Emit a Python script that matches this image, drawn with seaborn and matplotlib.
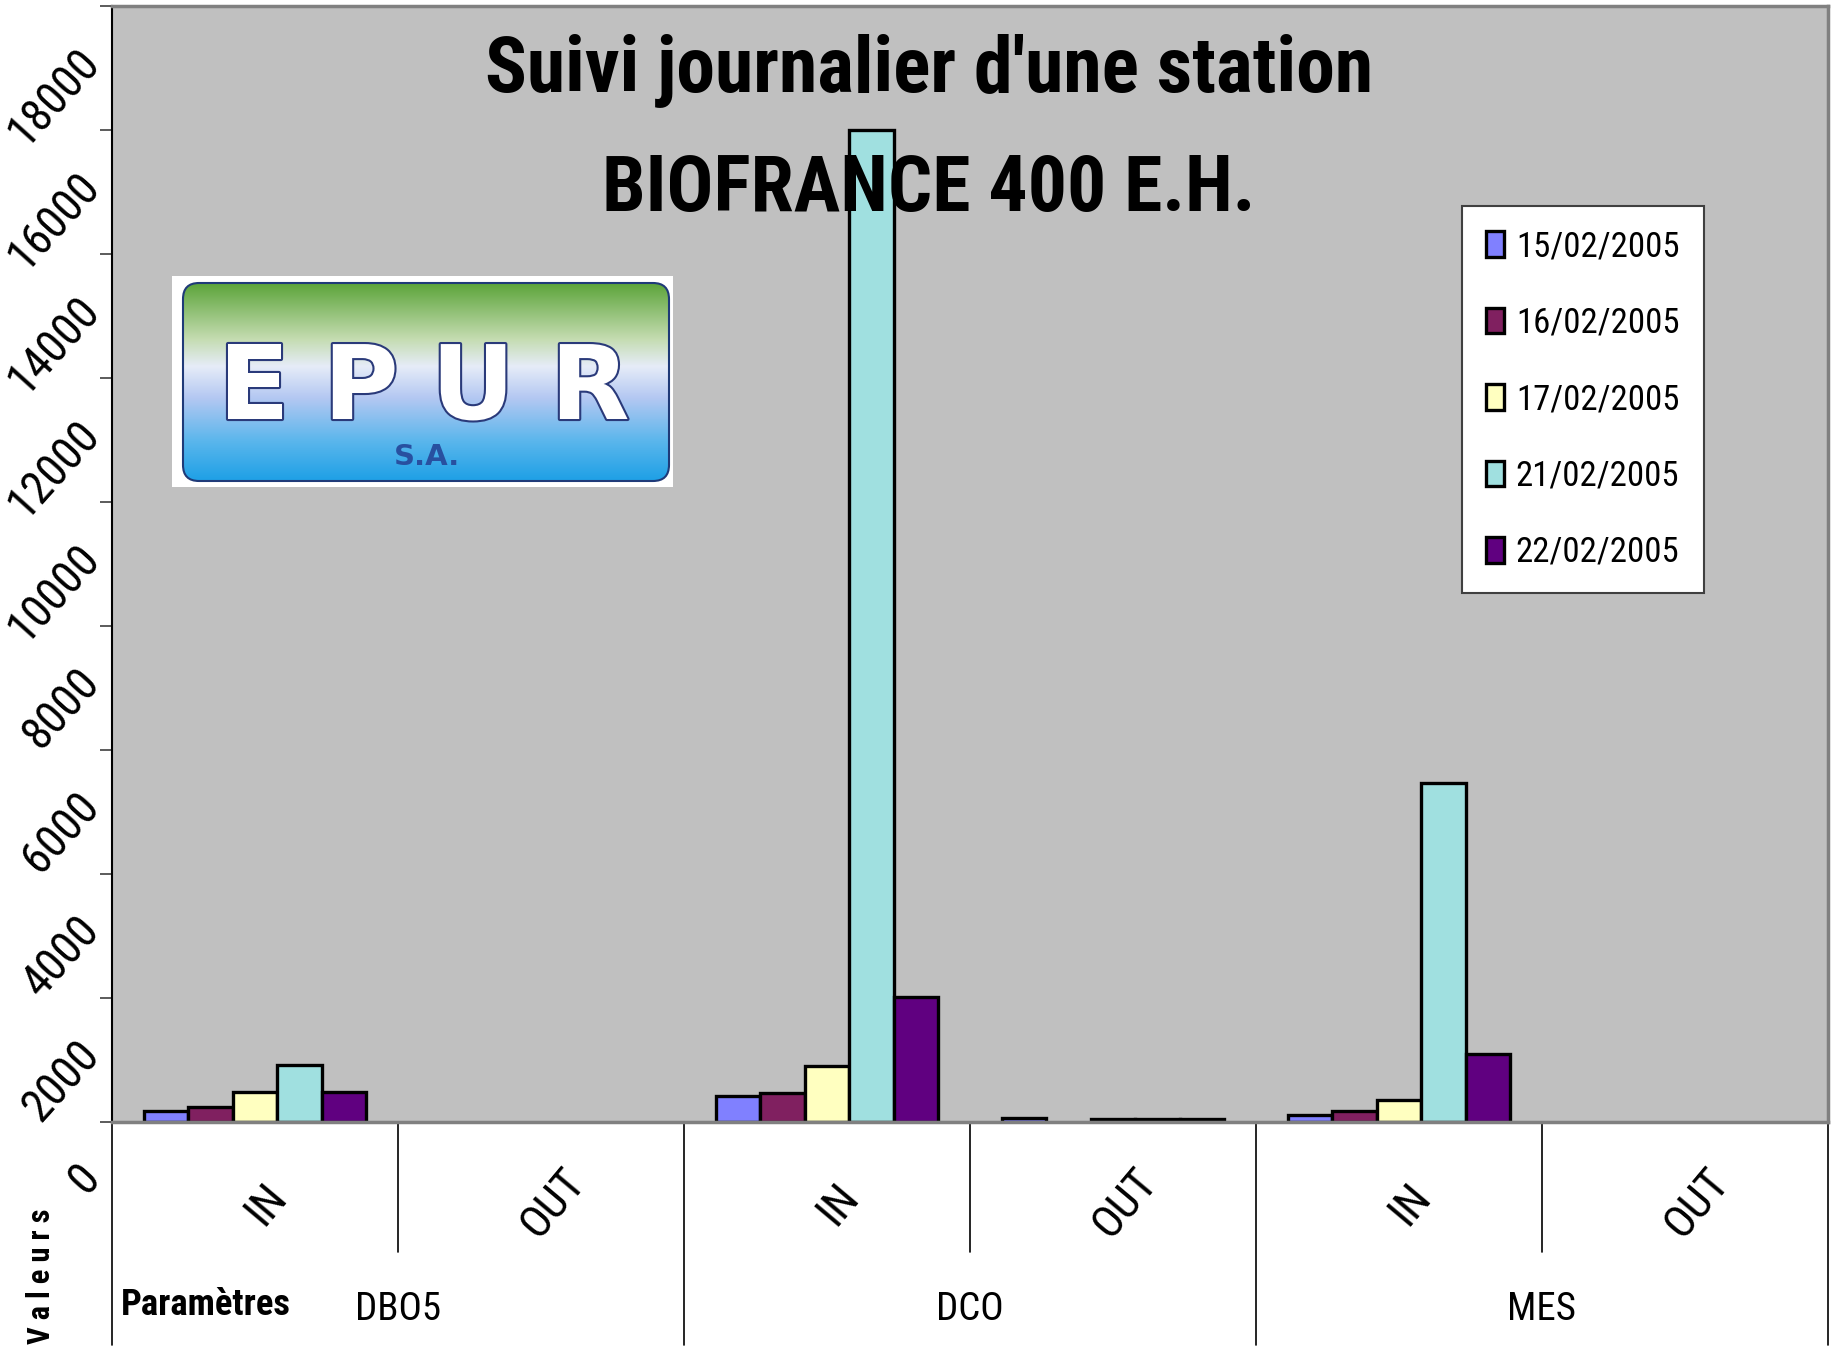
import numpy as np
import pandas as pd
import matplotlib
matplotlib.use("Agg")
import matplotlib.pyplot as plt
import matplotlib.transforms as mtransforms
import matplotlib.patheffects as pe
from matplotlib import font_manager as fm
from matplotlib.patches import FancyBboxPatch, Rectangle
from matplotlib.font_manager import FontProperties
from matplotlib.colors import LinearSegmentedColormap
import seaborn as sns

# --- data -------------------------------------------------------------------
params = ["DBO5", "DCO", "MES"]
stages = ["IN", "OUT"]
dates = ["15/02/2005", "16/02/2005", "17/02/2005", "21/02/2005", "22/02/2005"]
colors = ["#8080FF", "#802060", "#FFFFC0", "#A0E0E0", "#600080"]

# order: DBO5 IN, DBO5 OUT, DCO IN, DCO OUT, MES IN, MES OUT
vals_1502 = [170, np.nan, 415, 60, 105, np.nan]
vals_1602 = [235, np.nan, 475, np.nan, 170, np.nan]
vals_1702 = [480, np.nan, 910, 55, 355, np.nan]
vals_2102 = [925, np.nan, 16000, 55, 5470, np.nan]
vals_2202 = [480, np.nan, 2020, 55, 1100, np.nan]

y_ticks = [0, 2000, 4000, 6000, 8000, 10000, 12000, 14000, 16000, 18000]
title_lines = ["Suivi journalier d'une station", "BIOFRANCE 400 E.H."]
logo_letters = ["E", "P", "U", "R"]
logo_letter_x = [82, 189, 301, 418]   # letter centres inside the logo box (px)

W, H = 1839, 1352


def find_narrow(bold):
    """Look for an installed narrow face (Arial Narrow look-alike)."""
    prefs = ["Liberation Sans Narrow", "Roboto Condensed", "Noto Sans Condensed",
             "Open Sans Condensed"]
    found = {}
    for f in fm.fontManager.ttflist:
        if f.style != "normal":
            continue
        fname = f.fname.lower()
        if any(k in fname for k in ["extra", "semi", "ultra", "light", "thin", "medium", "black"]):
            continue
        w = f.weight if isinstance(f.weight, (int, float)) else (700 if "bold" in str(f.weight) else 400)
        if (w >= 600) != bold:
            continue
        if f.name in prefs and f.name not in found:
            found[f.name] = f.fname
    for name in prefs:
        if name in found:
            return found[name]
    return None


NARROW_REG = find_narrow(False)
NARROW_BOLD = find_narrow(True)
SCALE = 1.0 if NARROW_REG else 0.85


def fp(bold, size):
    path = NARROW_BOLD if bold else NARROW_REG
    if path:
        p = FontProperties(fname=path)
    else:
        p = FontProperties(family=["Liberation Sans", "DejaVu Sans"],
                           weight="bold" if bold else "normal")
    p.set_size(size)
    return p


sns.set_style("white")
plt.rcParams["font.family"] = ["Liberation Sans", "DejaVu Sans"]
plt.rcParams["text.color"] = "black"

cats = [f"{p} {s}" for p in params for s in stages]
rows = []
for date, series in zip(dates, [vals_1502, vals_1602, vals_1702, vals_2102, vals_2202]):
    for cat, v in zip(cats, series):
        if not np.isnan(v):
            rows.append({"cat": cat, "date": date, "value": v})
df = pd.DataFrame(rows)

fig = plt.figure(figsize=(W / 100, H / 100), dpi=100)
fig.patch.set_facecolor("white")
ax = fig.add_axes([112 / W, 1 - 1122 / H, (1828 - 112) / W, (1122 - 6) / H])
ax.set_facecolor("#C0C0C0")

sns.barplot(data=df, x="cat", y="value", hue="date", order=cats, hue_order=dates,
            palette=colors, saturation=1, width=0.776, edgecolor="black",
            linewidth=2.4, errorbar=None, ax=ax)

ax.set_xlim(-0.5, 5.5)
ax.set_ylim(0, 18000)
ax.set_xlabel("")
ax.set_ylabel("")

# spines
ax.spines["left"].set_color("black")
ax.spines["left"].set_linewidth(1.5)
for side in ["top", "right", "bottom"]:
    ax.spines[side].set_color("#808080")
    ax.spines[side].set_linewidth(2.5)

# y axis
ax.set_yticks(y_ticks)
ax.set_yticklabels([str(t) for t in y_ticks], rotation=48, ha="right", va="top")
ax.tick_params(axis="y", direction="out", length=8.6, width=1.2, color="#404040",
               pad=0, left=True, labelcolor="black")
shift_y = mtransforms.ScaledTranslation(8 / 100, -34 / 100, fig.dpi_scale_trans)
for lbl in ax.get_yticklabels():
    lbl.set_fontproperties(fp(False, 33 * SCALE))
    lbl.set_transform(lbl.get_transform() + shift_y)

# x axis: IN / OUT labels
ax.set_xticks(range(len(cats)))
ax.set_xticklabels(stages * len(params), rotation=50, rotation_mode="anchor",
                   ha="center", va="center")
ax.tick_params(axis="x", length=0, pad=59, bottom=True, labelcolor="black")
shift_x = mtransforms.ScaledTranslation(12 / 100, 0, fig.dpi_scale_trans)
for lbl in ax.get_xticklabels():
    lbl.set_fontproperties(fp(False, 32 * SCALE))
    lbl.set_transform(lbl.get_transform() + shift_x)

# category separators below the axis
blend = mtransforms.blended_transform_factory(ax.transData, ax.transAxes)
short_y = -(1252 - 1122) / 1116
long_y = -(1345 - 1122) / 1116
for i in range(len(cats) + 1):
    xb = i - 0.5
    yb = long_y if i % 2 == 0 else short_y
    ax.plot([xb, xb], [0, yb], transform=blend, color="black", lw=1.2, clip_on=False)

# group labels
for i, p in enumerate(params):
    ax.text(i * 2 + 0.5, -(1310 - 1122) / 1116, p, transform=blend, ha="center",
            va="center", fontproperties=fp(False, 28 * SCALE), color="black")

fig.text(121 / W, 1 - 1305 / H, "Paramètres", ha="left", va="center",
         fontproperties=fp(True, 26.5 * SCALE), color="black")
fig.text(41 / W, 1 - 1276 / H, "V a l e u r s", ha="center", va="center", rotation=90,
         fontproperties=fp(True, 22), color="black")

# title
for line, base_y in zip(title_lines, [91, 211]):
    fig.text(929 / W, 1 - base_y / H, line, ha="center", va="baseline",
             fontproperties=fp(True, 56 * SCALE), color="black", zorder=10)

# legend
handles, labels = ax.get_legend_handles_labels()
leg = ax.legend(handles, labels, loc="upper left",
                bbox_to_anchor=(1462 / W, 1 - 206 / H), bbox_transform=fig.transFigure,
                borderaxespad=0, frameon=True, fancybox=False, shadow=False,
                prop=fp(False, 25 * SCALE), handlelength=0.52,
                handleheight=0.75, handletextpad=0.33, labelspacing=1.25,
                borderpad=0.7)
for t in leg.get_texts():
    t.set_color("black")
leg.get_frame().set_edgecolor("#404040")
leg.get_frame().set_linewidth(1.5)
leg.get_frame().set_facecolor("white")
leg.get_frame().set_alpha(1)

# EPUR logo
logo = fig.add_axes([172 / W, 1 - 487 / H, 501 / W, 211 / H])
logo.axis("off")
logo.add_patch(Rectangle((0, 0), 501, 211, fc="white", ec="none", zorder=0))
grad_cmap = LinearSegmentedColormap.from_list(
    "epur", [(0.0, "#1ea0e6"), (0.2, "#5ab6ec"), (0.42, "#b4c8f2"),
             (0.58, "#e6ecf8"), (0.72, "#c4dcb0"), (1.0, "#5ca43a")])
img = logo.imshow(np.linspace(0, 1, 256).reshape(-1, 1), cmap=grad_cmap,
                  origin="lower", extent=(11, 497, 6, 204), aspect="auto", zorder=1)
box = FancyBboxPatch((11, 6), 486, 198, boxstyle="round,pad=0,rounding_size=16",
                     fc="none", ec="#1f3a78", lw=1.5, zorder=2)
logo.add_patch(box)
img.set_clip_path(box)

for letter, lx in zip(logo_letters, logo_letter_x):
    logo.text(lx, 68, letter, ha="center", va="baseline", fontsize=74,
              fontweight="bold", family=["DejaVu Sans"], color="white", zorder=3,
              path_effects=[pe.withStroke(linewidth=3, foreground="#2a3a7a")])
logo.text(255, 22, "S.A.", ha="center", va="baseline", fontsize=21, fontweight="bold",
          color="#2850a0", family=["DejaVu Sans"], zorder=3)
logo.set_xlim(0, 501)
logo.set_ylim(0, 211)

fig.savefig("out.png", dpi=100, facecolor="white")
